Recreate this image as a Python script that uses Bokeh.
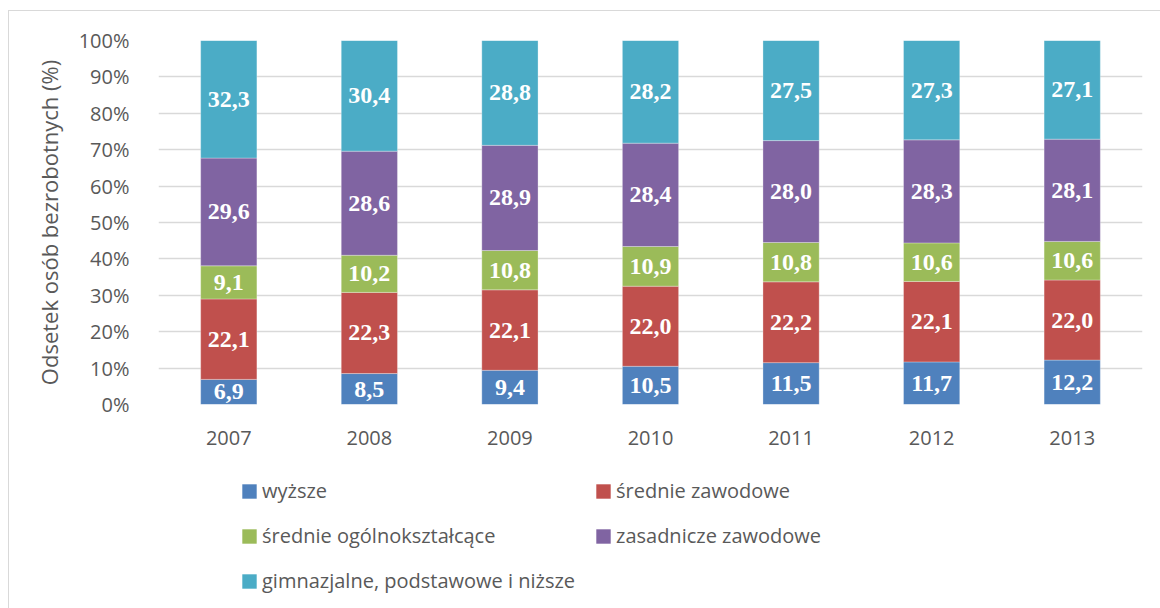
from bokeh.plotting import figure
from bokeh.layouts import column
from bokeh.models import ColumnDataSource, Legend, LegendItem, PrintfTickFormatter, FixedTicker
from bokeh.core.properties import value
from bokeh.embed import file_html
from bokeh.resources import INLINE

years = ["2007", "2008", "2009", "2010", "2011", "2012", "2013"]
series_names = ["wyższe", "średnie zawodowe", "średnie ogólnokształcące",
                "zasadnicze zawodowe", "gimnazjalne, podstawowe i niższe"]
wyzsze = [6.9, 8.5, 9.4, 10.5, 11.5, 11.7, 12.2]
srednie_zawodowe = [22.1, 22.3, 22.1, 22.0, 22.2, 22.1, 22.0]
srednie_ogolne = [9.1, 10.2, 10.8, 10.9, 10.8, 10.6, 10.6]
zasadnicze = [29.6, 28.6, 28.9, 28.4, 28.0, 28.3, 28.1]
gimnazjalne = [32.3, 30.4, 28.8, 28.2, 27.5, 27.3, 27.1]
colors = ["#4F81BD", "#C0504D", "#9BBB59", "#8064A2", "#4BACC6"]
y_ticks = [0, 10, 20, 30, 40, 50, 60, 70, 80, 90, 100]

series = [wyzsze, srednie_zawodowe, srednie_ogolne, zasadnicze, gimnazjalne]
keys = ["s0", "s1", "s2", "s3", "s4"]

data = {"year": years}
for k, s in zip(keys, series):
    data[k] = s
source = ColumnDataSource(data)

FONT = "Open Sans"
GRAY = "#595959"

p = figure(x_range=years, y_range=(0, 100), width=1151, height=449,
           output_backend="svg", toolbar_location=None,
           min_border_left=149, min_border_right=18, min_border_top=29,
           min_border_bottom=56)

renderers = p.vbar_stack(keys, x="year", width=0.4, color=colors, source=source,
                         line_color="white", line_width=0.5, line_alpha=0.6)

# data labels
for i, (k, s) in enumerate(zip(keys, series)):
    bottoms = [sum(series[j][n] for j in range(i)) for n in range(len(years))]
    mids = [b + v / 2 for b, v in zip(bottoms, s)]
    txt = [f"{v:.1f}".replace(".", ",") for v in s]
    lsrc = ColumnDataSource(dict(x=years, y=mids, t=txt))
    p.text(x="x", y="y", text="t", source=lsrc, text_color="white",
           text_font=value("Liberation Serif"), text_font_style="bold",
           text_font_size="24px", text_align="center", text_baseline="middle")

p.outline_line_color = None
p.xgrid.grid_line_color = None
p.ygrid.grid_line_color = "#d9d9d9"
p.ygrid.grid_line_width = 1.5
p.yaxis.ticker = FixedTicker(ticks=y_ticks)
p.yaxis.formatter = PrintfTickFormatter(format="%d%%")
for ax in (p.xaxis, p.yaxis):
    ax.axis_line_color = None
    ax.major_tick_line_color = None
    ax.minor_tick_line_color = None
    ax.major_label_text_font = FONT
    ax.major_label_text_font_size = "20px"
    ax.major_label_text_color = GRAY
p.yaxis.major_label_standoff = 23
p.xaxis.major_label_standoff = 20
p.yaxis.axis_label = "Odsetek osób bezrobotnych (%)"
p.yaxis.axis_label_text_font = FONT
p.yaxis.axis_label_text_font_style = "normal"
p.yaxis.axis_label_text_font_size = "22px"
p.yaxis.axis_label_text_color = GRAY
p.yaxis.axis_label_standoff = 12

# legend panel (separate figure below the chart); its bars lie outside the visible range
pl = figure(width=1151, height=148, output_backend="svg", toolbar_location=None,
            x_range=years, y_range=(1000, 1001), min_border=0)
pl.axis.visible = False
pl.grid.visible = False
pl.outline_line_color = None
leg_renderers = pl.vbar_stack(keys, x="year", width=0.4, color=colors, source=source,
                              line_color=None)
items = [LegendItem(label=n, renderers=[r]) for n, r in zip(series_names, leg_renderers)]
legend = Legend(items=items, orientation="horizontal", ncols=2,
                location=(82, 10), border_line_color=None, background_fill_alpha=0,
                label_text_font=FONT, label_text_font_size="20px",
                label_text_color=GRAY, glyph_width=18, glyph_height=18,
                label_width=322, label_height=35, label_standoff=4,
                spacing=10, padding=0, margin=0)
pl.add_layout(legend, "center")

layout = column(p, pl, spacing=0, margin=(10, 0, 0, 8))
layout.styles = {"border-left": "1px solid #d9d9d9", "border-top": "1px solid #d9d9d9"}
open("out.html", "w").write(file_html(layout, INLINE))
